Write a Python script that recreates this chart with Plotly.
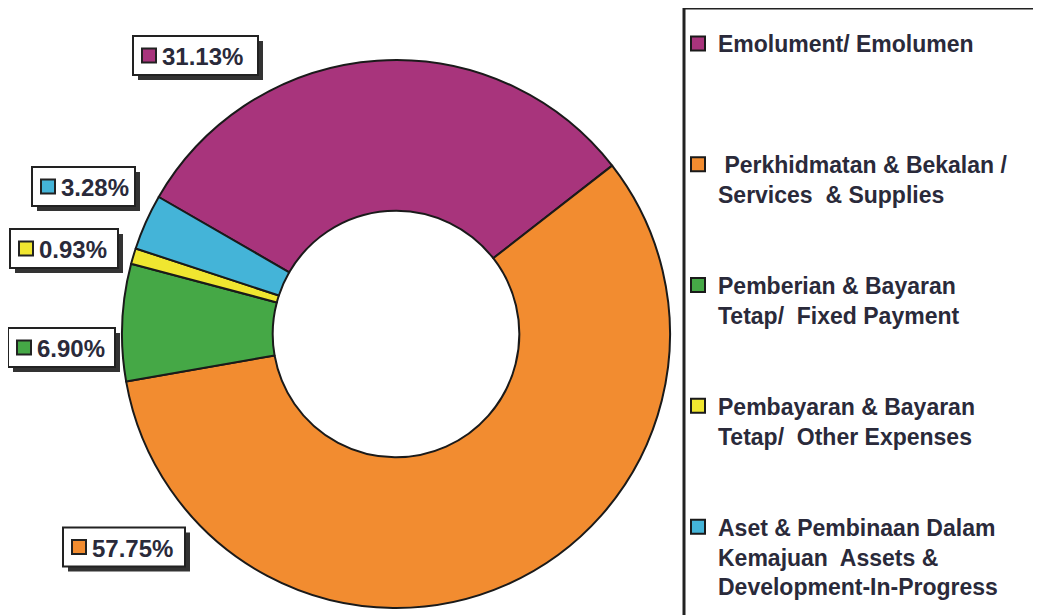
import plotly.graph_objects as go

# ---- data ----
categories = [
    "Emolument/ Emolumen",
    " Perkhidmatan & Bekalan /<br>Services  & Supplies",
    "Pemberian & Bayaran<br>Tetap/  Fixed Payment",
    "Pembayaran & Bayaran<br>Tetap/  Other Expenses",
    "Aset & Pembinaan Dalam<br>Kemajuan  Assets &<br>Development-In-Progress",
]
values = [31.13, 57.75, 6.90, 0.93, 3.28]
value_labels = ["31.13%", "57.75%", "6.90%", "0.93%", "3.28%"]

# ---- styles ----
colors = ["#A8347C", "#F28C30", "#45A846", "#F0E630", "#44B4D8"]
text_color = "#2a2a3a"
font_family = "Liberation Sans, Arial, sans-serif"

OFF = 8  # page body margin
# label box centres (pixels from top-left of the page) and box widths
label_pos = [(195.5, 55.5), (124, 547), (61.5, 347.5), (64, 248.5), (83.5, 186.5)]
label_w = [125, 122, 107, 108, 103]
BOX_H = 39

W, H = 1041, 615


def px(x):
    return (x - OFF) / W


def py(y):
    return 1 - (y - OFF) / H


fig = go.Figure()

cx0, cy0, R = 396, 334, 274
fig.add_trace(go.Pie(
    values=values,
    labels=[c.replace("<br>", " ") for c in categories],
    marker=dict(colors=colors, line=dict(color="#1a1a1a", width=2)),
    hole=0.45,
    sort=False,
    direction="clockwise",
    rotation=-60,
    textinfo="none",
    showlegend=False,
    domain=dict(x=[px(cx0 - R), px(cx0 + R)],
                y=[py(cy0 + R), py(cy0 - R)]),
))

# legend entries
for i, (cat, col) in enumerate(zip(categories, colors)):
    name = cat if "<br>" in cat else cat + "<br> "
    fig.add_trace(go.Scatter(
        x=[None], y=[None], mode="markers", name=name,
        legendgroup=f"g{i}",
        marker=dict(symbol="square", size=14, color=col,
                    line=dict(color="#1a1a1a", width=2)),
    ))

shapes = [dict(type="rect", xref="paper", yref="paper",
               x0=px(684), x1=1.02, y0=-0.02, y1=py(8),
               line=dict(color="#222222", width=3), fillcolor="rgba(0,0,0,0)")]
annotations = []
for (cx, cy), w, lab, col in zip(label_pos, label_w, value_labels, colors):
    x0, x1 = cx - w / 2, cx + w / 2
    y0, y1 = cy - BOX_H / 2, cy + BOX_H / 2
    # shadow
    shapes.append(dict(type="rect", xref="paper", yref="paper", layer="above",
                       x0=px(x0 + 5), x1=px(x1 + 5), y0=py(y1 + 5), y1=py(y0 + 5),
                       line=dict(width=0), fillcolor="#333333"))
    # box
    shapes.append(dict(type="rect", xref="paper", yref="paper", layer="above",
                       x0=px(x0), x1=px(x1), y0=py(y1), y1=py(y0),
                       line=dict(color="#222222", width=2), fillcolor="white"))
    # colour key square
    shapes.append(dict(type="rect", xref="paper", yref="paper", layer="above",
                       x0=px(x0 + 9), x1=px(x0 + 23), y0=py(cy + 7), y1=py(cy - 7),
                       line=dict(color="#222222", width=2), fillcolor=col))
    annotations.append(dict(
        x=px(x0 + 27), y=py(cy + 1), xref="paper", yref="paper",
        xanchor="left", yanchor="middle", showarrow=False,
        text=f"<b>{lab}</b>",
        font=dict(family=font_family, size=24, color=text_color),
    ))

fig.update_layout(
    width=W, height=H,
    margin=dict(l=0, r=0, t=0, b=0),
    paper_bgcolor="white", plot_bgcolor="white",
    xaxis=dict(visible=False), yaxis=dict(visible=False),
    showlegend=True,
    legend=dict(
        x=px(678), y=py(22), xanchor="left", yanchor="top",
        font=dict(family=font_family, size=23, color=text_color, weight="bold"),
        tracegroupgap=58, valign="top", borderwidth=0,
        bgcolor="rgba(0,0,0,0)",
    ),
    annotations=annotations,
    shapes=shapes,
)

fig.write_html("out.html")
